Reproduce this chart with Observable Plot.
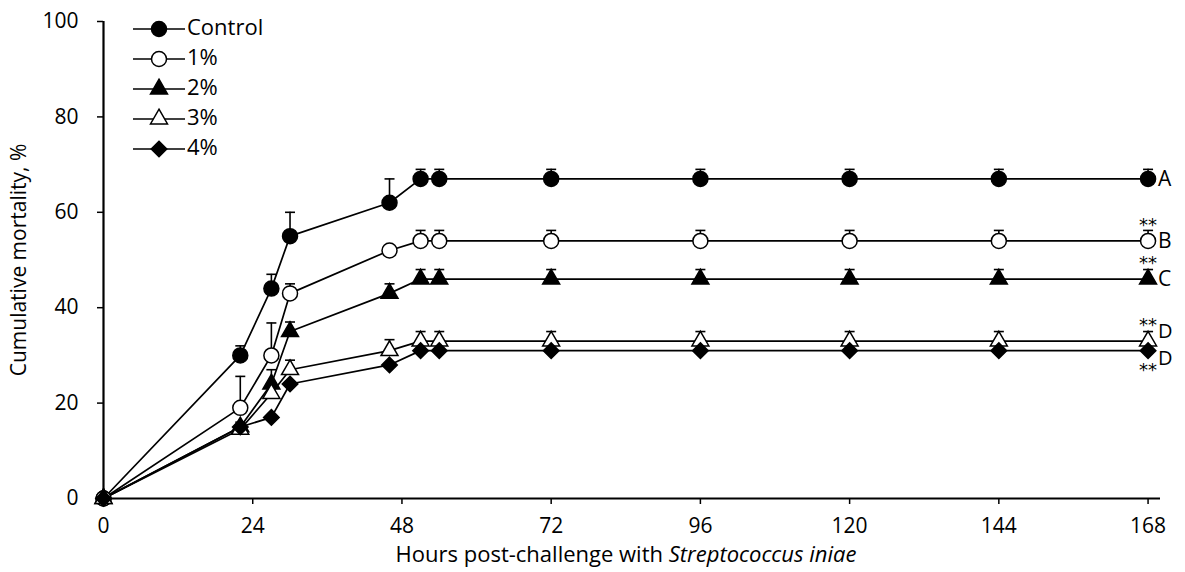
<!DOCTYPE html>
<html><head><meta charset="utf-8">
<script src="https://cdn.jsdelivr.net/npm/d3@7"></script>
<script src="https://cdn.jsdelivr.net/npm/@observablehq/plot@0.6"></script>
<style>
body{margin:0;background:#fff;}
#chart svg{font-family:"Open Sans", Lato, sans-serif;}
</style>
</head><body><div id="chart"></div>
<script>
// ---- data ----
const hours = [0, 22, 27, 30, 46, 51, 54, 72, 96, 120, 144, 168];
const seriesNames = ["Control", "1%", "2%", "3%", "4%"];
const controlMean = [0, 30, 44, 55, 62, 67, 67, 67, 67, 67, 67, 67];
const controlErr  = [0, 2, 3, 5, 5, 2, 2, 2, 2, 2, 2, 2];
const pct1Mean    = [0, 19, 30, 43, 52, 54, 54, 54, 54, 54, 54, 54];
const pct1Err     = [0, 6.6, 6.8, 2, 0, 2.2, 2.2, 2.2, 2.2, 2.2, 2.2, 2.2];
const pct2Mean    = [0, 15, 24, 35, 43, 46, 46, 46, 46, 46, 46, 46];
const pct2Err     = [0, 1, 3, 2, 2, 2, 2, 2, 2, 2, 2, 2];
const pct3Mean    = [0, 14.5, 22, 27, 31, 33, 33, 33, 33, 33, 33, 33];
const pct3Err     = [0, 1, 2, 2, 2.3, 2, 2, 2, 2, 2, 2, 2];
const pct4Mean    = [0, 15, 17, 24, 28, 31, 31, 31, 31, 31, 31, 31];
const pct4Err     = [0, 0, 0, 0, 0, 0, 0, 0, 0, 0, 0, 0];
const groupLetters = ["A", "B", "C", "D", "D"];
const starMarks    = ["", "**", "**", "**", "**"];
const starSide     = ["", "above", "above", "above", "below"];
const letterShift  = ["mid", "mid", "mid", "up", "down"];
const xTicks = [0, 24, 48, 72, 96, 120, 144, 168];
const yTicks = [0, 20, 40, 60, 80, 100];
const xLabelPlain = "Hours post-challenge with ";
const xLabelItalic = "Streptococcus iniae";
const yLabel = "Cumulative mortality, %";

// ---- build table ----
const means = [controlMean, pct1Mean, pct2Mean, pct3Mean, pct4Mean];
const errs  = [controlErr, pct1Err, pct2Err, pct3Err, pct4Err];
const data = seriesNames.flatMap((s, i) => hours.map((h, j) => ({series: s, hour: h, mean: means[i][j], err: errs[i][j]})));

const FONT = "'Open Sans', Lato, sans-serif";
const FS = 22;
const TFS = 21;

// marker styles
const style = {
  "Control": {symbol: "circle", fill: "black", r: 7.5},
  "1%":      {symbol: "circle", fill: "white", r: 7.5},
  "2%":      {symbol: "triangle", fill: "black", r: 6.3},
  "3%":      {symbol: "triangle", fill: "white", r: 6.3},
  "4%":      {symbol: "diamond2", fill: "black", r: 7.0}
};
const capSymbol = {draw(ctx) { ctx.moveTo(-5, 0); ctx.lineTo(5, 0); }};

const last = hours.length - 1;
const endRows = seriesNames.map((s, i) => ({series: s, hour: hours[last], mean: means[i][last], letter: groupLetters[i], star: starMarks[i], side: starSide[i], shift: letterShift[i]}));

const width = 1185, height = 572;
const chart = Plot.plot({
  width, height,
  marginLeft: 103, marginRight: 25, marginTop: 21, marginBottom: 74,
  style: {fontSize: FS + "px", fontFamily: FONT, color: "black", background: "white"},
  x: {domain: [0, 170]},
  y: {domain: [0, 100]},
  marks: [
    Plot.axisX({ticks: xTicks, tickSize: 6, tickPadding: 14, strokeWidth: 1.5, label: null, fontSize: TFS}),
    Plot.axisY({ticks: yTicks, tickSize: 6, tickPadding: 19, strokeWidth: 1.5, label: yLabel, labelAnchor: "center", labelOffset: 92, labelArrow: "none", fontSize: TFS}),
    Plot.ruleY([0], {stroke: "black", strokeWidth: 2.2}),
    Plot.ruleX([0], {stroke: "black", strokeWidth: 2.2}),
    Plot.line(data, {x: "hour", y: "mean", z: "series", stroke: "black", strokeWidth: 1.7}),
    Plot.ruleX(data.filter(d => d.err > 0), {x: "hour", y1: "mean", y2: d => d.mean + d.err, stroke: "black", strokeWidth: 1.6}),
    Plot.dot(data.filter(d => d.err > 0), {x: "hour", y: d => d.mean + d.err, symbol: capSymbol, r: 1, stroke: "black", strokeWidth: 1.6, fill: "none"}),
    ...seriesNames.map(s => Plot.dot(data.filter(d => d.series === s), {
      x: "hour", y: "mean", symbol: style[s].symbol, r: style[s].r,
      fill: style[s].fill, stroke: "black", strokeWidth: 1.5
    })),
    Plot.text(endRows.filter(d => d.shift === "mid"), {x: "hour", y: "mean", text: "letter", dx: 10, textAnchor: "start", fontSize: 21}),
    Plot.text(endRows.filter(d => d.shift === "up"), {x: "hour", y: "mean", text: "letter", dx: 10, dy: -9, textAnchor: "start", fontSize: 20}),
    Plot.text(endRows.filter(d => d.shift === "down"), {x: "hour", y: "mean", text: "letter", dx: 10, dy: 8, textAnchor: "start", fontSize: 20}),
    Plot.text(endRows.filter(d => d.side === "above"), {x: "hour", y: "mean", text: "star", dy: -16, fontSize: 18, fontFamily: "DejaVu Sans"}),
    Plot.text(endRows.filter(d => d.side === "below"), {x: "hour", y: "mean", text: "star", dy: 20, fontSize: 18, fontFamily: "DejaVu Sans"})
  ]
});

const svg = d3.select(chart);
// x axis label with italic species name
const xl = svg.append("text")
  .attr("x", 626).attr("y", 556)
  .attr("text-anchor", "middle").attr("dominant-baseline", "middle")
  .attr("font-size", FS).attr("font-family", FONT).attr("fill", "black");
xl.append("tspan").text(xLabelPlain);
xl.append("tspan").attr("font-style", "italic").text(xLabelItalic);

// legend
const leg = svg.append("g");
seriesNames.forEach((s, i) => {
  const y = 29 + 30 * i;
  leg.append("line").attr("x1", 133).attr("x2", 185).attr("y1", y).attr("y2", y).attr("stroke", "black").attr("stroke-width", 1.7);
  const symType = {circle: d3.symbolCircle, triangle: d3.symbolTriangle, diamond2: d3.symbolDiamond2}[style[s].symbol];
  leg.append("path").attr("d", d3.symbol(symType, Math.PI * style[s].r * style[s].r)())
    .attr("transform", `translate(159,${y})`).attr("fill", style[s].fill).attr("stroke", "black").attr("stroke-width", 1.5);
  leg.append("text").attr("x", 187).attr("y", y).attr("text-anchor", "start").attr("dominant-baseline", "middle")
    .attr("font-size", FS).attr("font-family", FONT).attr("fill", "black").text(s);
});

document.getElementById("chart").appendChild(chart);
</script>
</body></html>
